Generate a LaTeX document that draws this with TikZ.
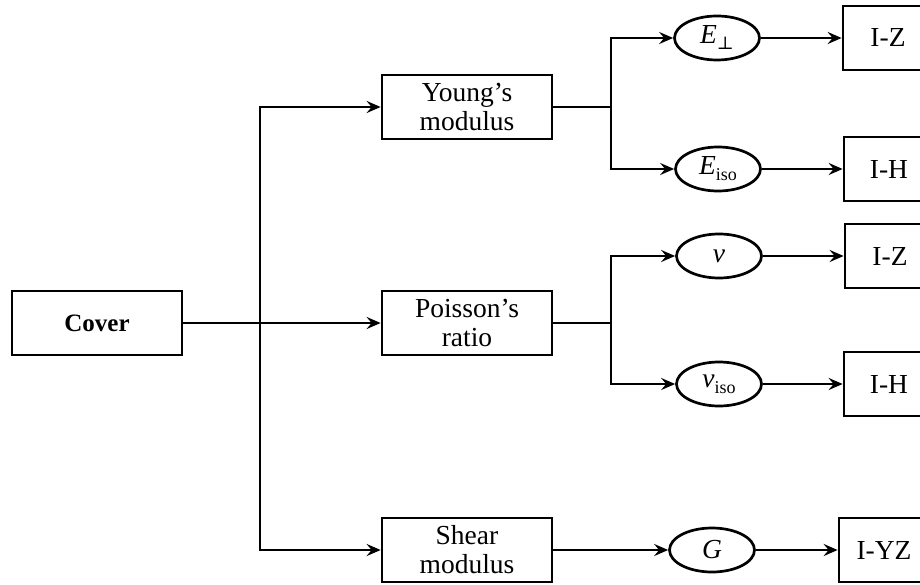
\documentclass[tikz,border=0pt]{standalone}
\usepackage{fontspec}
\setmainfont{Liberation Serif}
\newfontfamily\symfont{DejaVu Serif}
\usetikzlibrary{shapes.geometric,arrows.meta}
\newcommand\lowsub[1]{\raisebox{-6pt}{\fontsize{18}{18}\selectfont #1}}
\begin{document}
\begin{tikzpicture}[x=1pt,y=-1pt,
  every node/.style={font=\fontsize{27.5}{29}\selectfont, line width=2.7pt, inner sep=0pt, align=center},
  box/.style={draw, rectangle, minimum width=170pt, minimum height=64pt},
  endbox/.style={draw, rectangle, minimum width=90pt, minimum height=64pt},
  oval/.style={draw, ellipse, minimum width=85pt, minimum height=44pt},
  link/.style={line width=2.5pt, -{Stealth[length=14pt,width=12pt,inset=5pt]}},
  wire/.style={line width=2.5pt}]
\useasboundingbox (0,0) rectangle (920,585);
\clip (0,0) rectangle (920,585);

\node[box] (cover) at (97,323) {\fontsize{25}{28}\selectfont\textbf{Cover}};
\node[box] (young) at (467,107) {Young’s\\modulus};
\node[box] (poisson) at (467,323) {Poisson’s\\ratio};
\node[box] (shear) at (467,550) {Shear\\modulus};

\node[oval] (e1) at (717,38) {\textit{E}\lowsub{\symfont ⊥}};
\node[oval] (e2) at (718,169) {\textit{E}\lowsub{iso}};
\node[oval] (n1) at (719,256) {\textit{ν}};
\node[oval] (n2) at (719,384) {\textit{ν}\lowsub{iso}};
\node[oval] (g) at (712,550) {\textit{G}};

\node[endbox] (iz1) at (888,38) {I-Z};
\node[endbox] (ih1) at (889,169) {I-H};
\node[endbox] (iz2) at (890,256) {I-Z};
\node[endbox] (ih2) at (889,384) {I-H};
\node[endbox] (iyz) at (884,550) {I-YZ};

\coordinate (t) at (260,323);
\coordinate (by) at (611,107);
\coordinate (bp) at (611,323);

\draw[link] (cover) -- (poisson);
\draw[link] (t) |- (young.west);
\draw[link] (t) |- (shear.west);

\draw[wire] (young.east) -- (by);
\draw[link] (by) |- (e1.west);
\draw[link] (by) |- (e2.west);
\draw[wire] (poisson.east) -- (bp);
\draw[link] (bp) |- (n1.west);
\draw[link] (bp) |- (n2.west);
\draw[link] (shear) -- (g);

\draw[link] (e1) -- (iz1);
\draw[link] (e2) -- (ih1);
\draw[link] (n1) -- (iz2);
\draw[link] (n2) -- (ih2);
\draw[link] (g) -- (iyz);
\end{tikzpicture}
\end{document}
